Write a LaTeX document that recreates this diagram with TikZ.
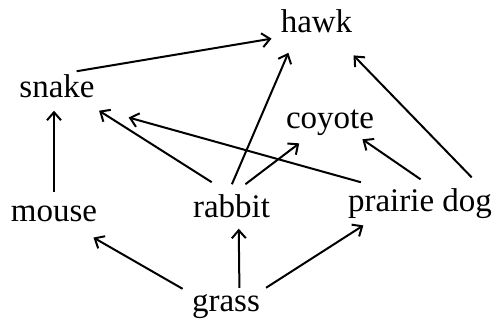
\documentclass[tikz,border=0pt]{standalone}
\usepackage{fontspec}
\setmainfont{Liberation Serif}
\usetikzlibrary{arrows.meta}
\begin{document}
\begin{tikzpicture}[x=0.5pt,y=-0.5pt,font=\fontsize{16.5}{20}\selectfont,animal/.style={inner sep=1pt,anchor=base},eats/.style={draw,line width=1pt,-{Straight Barb[length=4pt,width=7pt]}}]
\useasboundingbox (0,0) rectangle (497,320);
\node[animal] (hawk) at (316.5,33) {hawk};\node[animal] (snake) at (57,98) {snake};\node[animal] (coyote) at (330,129) {coyote};
\node[animal] (mouse) at (54,221) {mouse};\node[animal] (rabbit) at (231.5,218) {rabbit};\node[animal] (pdog) at (420,212) {prairie dog};
\node[animal] (grass) at (226,311) {grass};
\draw[eats,shorten <=4.4pt,shorten >=8.85pt] (snake.52) -- (hawk.207);
\draw[eats,shorten <=5.4pt,shorten >=5pt] (mouse.north) -- (mouse.north |- snake.south);
\draw[eats,shorten <=9.8pt,shorten >=9.3pt] (rabbit.103) -- (snake.-28.6);
\draw[eats,shorten <=8.3pt,shorten >=31.3pt] (pdog.158) -- (snake.-51);
\draw[eats,shorten <=4.6pt,shorten >=9.3pt] (rabbit.103.6) -- (hawk.214.7);
\draw[eats,shorten <=7pt,shorten >=4pt] (rabbit.79.7) -- (coyote.212.6);
\draw[eats,shorten <=6.5pt,shorten >=0.7pt] (pdog.57.8) -- (coyote.-26.1);
\draw[eats,shorten <=6.5pt,shorten >=13.7pt] (pdog.16.8) -- (hawk.-38.3);
\draw[eats,shorten <=4.1pt,shorten >=13.9pt] (grass.160.1) -- (mouse.-34.6);
\draw[eats,shorten <=1.9pt,shorten >=4pt] (grass.47.7) -- (rabbit.-63.9);
\draw[eats,shorten <=3.6pt,shorten >=3.6pt] (grass.23.1) -- (pdog.199.8);
\end{tikzpicture}
\end{document}
